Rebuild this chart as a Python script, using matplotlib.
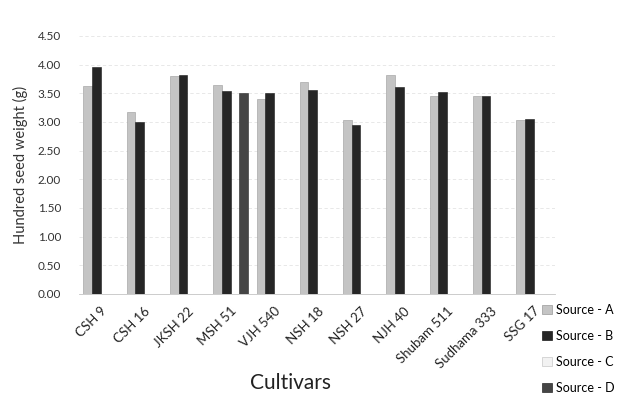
import numpy as np
import matplotlib
matplotlib.use("Agg")
import matplotlib.pyplot as plt
from matplotlib.patches import Patch

cultivars = ["CSH 9", "CSH 16", "JKSH 22", "MSH 51", "VJH 540", "NSH 18",
             "NSH 27", "NJH 40", "Shubam 511", "Sudhama 333", "SSG 17"]
source_a = [3.63, 3.17, 3.80, 3.64, 3.40, 3.70, 3.04, 3.81, 3.46, 3.46, 3.04]
source_b = [3.95, 2.99, 3.82, 3.54, 3.51, 3.56, 2.95, 3.61, 3.52, 3.46, 3.05]
source_c = [np.nan] * 11
source_d = [np.nan, np.nan, np.nan, 3.50, np.nan, np.nan, np.nan, np.nan, np.nan, np.nan, np.nan]
series_names = ["Source - A", "Source - B", "Source - C", "Source - D"]
yticks = [0.0, 0.5, 1.0, 1.5, 2.0, 2.5, 3.0, 3.5, 4.0, 4.5]

plt.rcParams['font.family'] = ['Lato', 'DejaVu Sans']

fig = plt.figure(figsize=(6.28, 4.18), dpi=100)
ax = fig.add_axes([0.126, 0.297, 0.758, 0.617])

colors = ["#c4c4c4", "#262626", "#f2f2f2", "#454545"]
edges = ["#9a9a9a", "#1a1a1a", "#c8c8c8", "#2a2a2a"]
x = np.arange(len(cultivars))
w = 0.2
all_series = [source_a, source_b, source_c, source_d]
for k, vals in enumerate(all_series):
    ax.bar(x + (k - 1.5) * w, vals, width=w, color=colors[k],
           edgecolor=edges[k], linewidth=0.4, zorder=3)

ax.set_xlim(-0.5, len(cultivars) - 0.5)
ax.set_ylim(0, 4.5)
ax.set_yticks(yticks)
ax.set_yticklabels([f"{v:.2f}" for v in yticks], fontsize=8.5, color="#333333")
ax.set_xticks(x)
ax.set_xticklabels(cultivars, rotation=45, ha="right", rotation_mode="anchor",
                   fontsize=9.5, color="#222222")
ax.tick_params(axis="y", length=0, pad=13)
ax.tick_params(axis="x", length=0, pad=8)
ax.grid(axis="y", color="#e4e4e4", linewidth=0.6, linestyle=(0, (4, 3)), zorder=0)
for s in ["top", "right", "left"]:
    ax.spines[s].set_visible(False)
ax.spines["bottom"].set_color("#c4c4c4")
ax.spines["bottom"].set_linewidth(0.6)

ax.set_ylabel("Hundred seed weight (g)", fontsize=10.5, color="#333333", labelpad=7)
fig.text(0.462, 0.083, "Cultivars", fontsize=15, ha="center", va="center", color="#222222")

handles = [Patch(facecolor=colors[k], edgecolor=edges[k], linewidth=0.5) for k in range(4)]
fig.legend(handles, series_names, loc="upper left", bbox_to_anchor=(0.855, 0.285),
           frameon=False, fontsize=9, handlelength=0.8, handleheight=0.8,
           handletextpad=0.3, labelspacing=1.12, borderaxespad=0)

fig.savefig("out.png", dpi=100, facecolor="white")
